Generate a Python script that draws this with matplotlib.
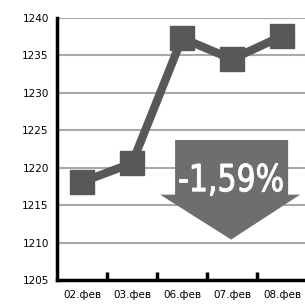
import matplotlib
matplotlib.use("Agg")
import matplotlib.pyplot as plt
from matplotlib.patches import Polygon, PathPatch
from matplotlib.textpath import TextPath
from matplotlib.font_manager import FontProperties
from matplotlib.transforms import Affine2D, IdentityTransform

# данни
dates = ["02.фев", "03.фев", "06.фев", "07.фев", "08.фев"]
values = [1218.1, 1220.6, 1237.3, 1234.5, 1237.6]
change_label = "-1,59%"

line_color = "#58585a"
arrow_color = "#6d6e70"

fig = plt.figure(figsize=(3.05, 3.05), dpi=100)
ax = fig.add_axes([0.187, 0.082, 0.82, 0.859])

x = list(range(len(dates)))
ax.plot(x, values, color=line_color, lw=6, marker="s", ms=17,
        solid_joinstyle="miter", zorder=3)

ax.set_xlim(-0.5, len(dates) - 0.5)
ax.set_ylim(1205, 1240)
ax.set_yticks(range(1205, 1241, 5))
ax.yaxis.grid(True, color="#a7a9ac", lw=1.5)
ax.set_axisbelow(True)

ax.set_xticks(x)
ax.set_xticklabels(dates)
ax.set_xticks([i + 0.5 for i in x[:-1]], minor=True)
ax.tick_params(axis="x", which="major", length=0, pad=7, labelsize=7.5)
ax.tick_params(axis="x", which="minor", direction="in", length=6, width=2.5)
ax.tick_params(axis="y", length=0, pad=6, labelsize=7.5)

for s in ["top", "right"]:
    ax.spines[s].set_visible(False)
ax.spines["left"].set_linewidth(2.5)
ax.spines["bottom"].set_linewidth(2.5)

# стрелка надолу
arrow = Polygon([(1.86, 1223.7), (4.12, 1223.7), (4.12, 1216.4), (4.36, 1216.4),
                 (2.98, 1210.4), (1.56, 1216.4), (1.86, 1216.4)],
                closed=True, facecolor=arrow_color, edgecolor="none", zorder=4)
ax.add_patch(arrow)

# тесен (condensed) надпис - мащабиран текст като път в пиксели
tp = TextPath((0, 0), change_label, size=40,
              prop=FontProperties(family="DejaVu Sans"))
bb = tp.get_extents()
box_w, box_h = 103, 32
sx = box_w / bb.width
sy = box_h / bb.height
H = fig.bbox.height
tr = (Affine2D().translate(-bb.x0, -bb.y0).scale(sx, sy)
      .translate(179.5, H - 195.5))
ax.add_artist(PathPatch(tr.transform_path(tp), facecolor="white",
                        edgecolor="white", lw=0.7, transform=IdentityTransform(),
                        zorder=5))

fig.savefig("out.png", dpi=100)
